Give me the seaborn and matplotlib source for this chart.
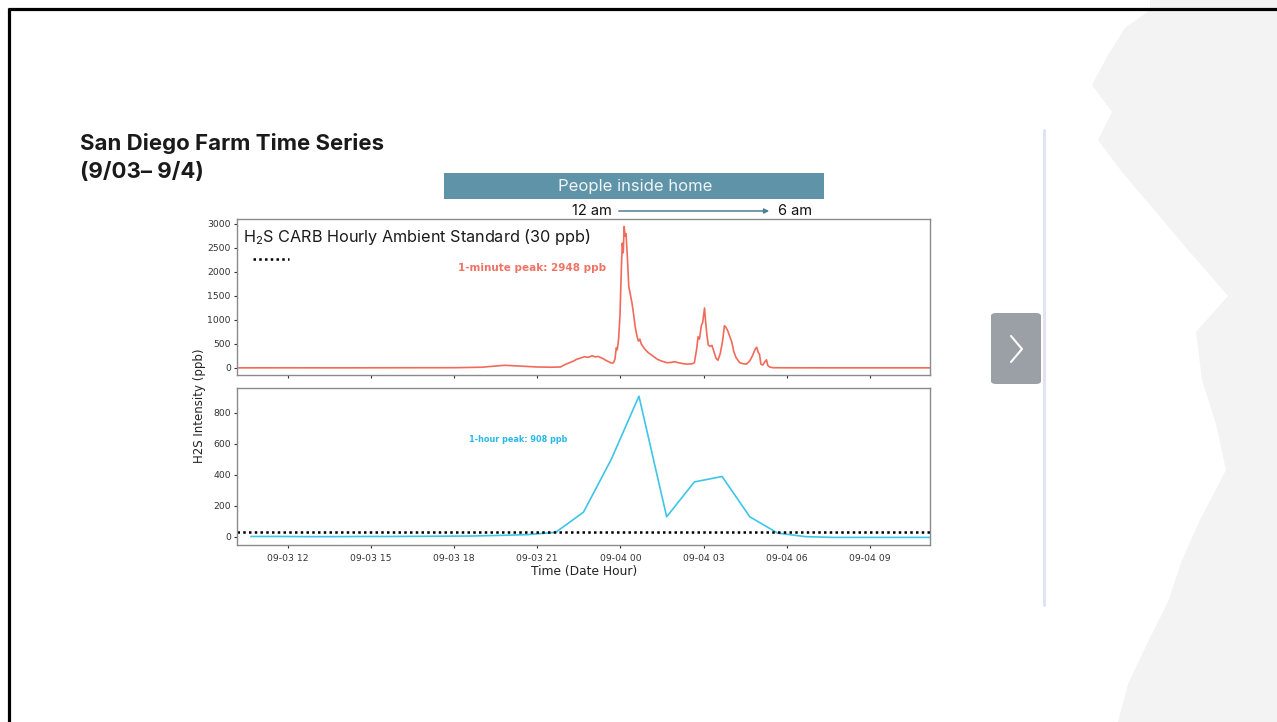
import numpy as np
import pandas as pd
import matplotlib
matplotlib.use("Agg")
import matplotlib.pyplot as plt
import matplotlib.dates as mdates
from matplotlib.lines import Line2D
from matplotlib.patches import Rectangle, FancyBboxPatch, FancyArrowPatch, Polygon
import seaborn as sns

# ---------------- data ----------------
minute_times = [
    "09-03 10:00", "09-03 12:00", "09-03 14:00", "09-03 16:00", "09-03 18:00", "09-03 19:00",
    "09-03 19:30", "09-03 19:50", "09-03 20:10", "09-03 20:40", "09-03 21:00", "09-03 21:30",
    "09-03 21:50", "09-03 22:00", "09-03 22:10", "09-03 22:20", "09-03 22:25", "09-03 22:35",
    "09-03 22:42", "09-03 22:50", "09-03 22:59", "09-03 23:05", "09-03 23:12", "09-03 23:21",
    "09-03 23:30", "09-03 23:41", "09-03 23:45", "09-03 23:48", "09-03 23:51", "09-03 23:53",
    "09-03 23:56", "09-03 23:59", "09-04 00:02", "09-04 00:04", "09-04 00:06", "09-04 00:08",
    "09-04 00:10", "09-04 00:12", "09-04 00:15", "09-04 00:18", "09-04 00:21", "09-04 00:25",
    "09-04 00:28", "09-04 00:32", "09-04 00:36", "09-04 00:39", "09-04 00:42", "09-04 00:45",
    "09-04 00:52", "09-04 01:00", "09-04 01:10", "09-04 01:20", "09-04 01:30", "09-04 01:40",
    "09-04 01:50", "09-04 01:57", "09-04 02:05", "09-04 02:15", "09-04 02:25", "09-04 02:35",
    "09-04 02:40", "09-04 02:45", "09-04 02:48", "09-04 02:51", "09-04 02:55", "09-04 02:58",
    "09-04 03:02", "09-04 03:04", "09-04 03:07", "09-04 03:10", "09-04 03:14", "09-04 03:18",
    "09-04 03:22", "09-04 03:27", "09-04 03:31", "09-04 03:36", "09-04 03:41", "09-04 03:45",
    "09-04 03:48", "09-04 03:52", "09-04 03:55", "09-04 03:58", "09-04 04:01", "09-04 04:05",
    "09-04 04:10", "09-04 04:18", "09-04 04:25", "09-04 04:33", "09-04 04:40", "09-04 04:46",
    "09-04 04:52", "09-04 04:55", "09-04 04:58", "09-04 05:01", "09-04 05:04", "09-04 05:08",
    "09-04 05:12", "09-04 05:16", "09-04 05:19", "09-04 05:23", "09-04 05:30", "09-04 06:00",
    "09-04 08:00", "09-04 10:00", "09-04 12:00",
]
minute_ppb = [
    2, 3, 2, 4, 5, 15,
    40, 55, 45, 30, 20, 15,
    20, 70, 110, 150, 180, 210,
    235, 220, 255, 230, 240, 200,
    150, 100, 110, 180, 420, 380,
    600, 1100, 2100, 2600, 2400, 2948,
    2750, 2800, 2300, 1700, 1550, 1350,
    1150, 850, 650, 560, 600, 500,
    400, 320, 250, 180, 140, 110,
    115, 130, 110, 90, 80, 85,
    110, 400, 650, 600, 880, 950,
    1250, 1000, 700, 480, 450, 470,
    350, 200, 160, 300, 560, 880,
    850, 780, 700, 620, 540, 350,
    220, 110, 90, 80, 150, 260,
    400, 430, 330, 280, 80, 60,
    120, 170, 50, 20, 5, 3,
    2, 2, 2,
]

hour_times = [
    "09-03 10:40", "09-03 11:40", "09-03 12:40", "09-03 13:40", "09-03 14:40", "09-03 15:40",
    "09-03 16:40", "09-03 17:40", "09-03 18:40", "09-03 19:40", "09-03 20:40", "09-03 21:40",
    "09-03 22:40", "09-03 23:40", "09-04 00:40", "09-04 01:40", "09-04 02:40", "09-04 03:40",
    "09-04 04:40", "09-04 05:40", "09-04 06:40", "09-04 07:40", "09-04 08:40", "09-04 09:40",
    "09-04 10:40", "09-04 11:40",
]
hour_ppb = [
    3, 3, 2, 2, 3, 3,
    4, 5, 6, 10, 15, 30,
    160, 500, 908, 130, 355, 390,
    130, 25, 2, -3, -3, -3,
    -3, -3,
]

standard_ppb = 30
x_start, x_end = "09-03 10:10", "09-04 11:10"
tick_fmt = "%m-%d %H"

df_min = pd.DataFrame({"time": pd.to_datetime(["2024-" + t for t in minute_times]),
                       "ppb": minute_ppb})
df_hr = pd.DataFrame({"time": pd.to_datetime(["2024-" + t for t in hour_times]),
                      "ppb": hour_ppb})
xlim = (pd.Timestamp("2024-" + x_start), pd.Timestamp("2024-" + x_end))

# ---------------- style ----------------
sns.set_theme(style="ticks")
plt.rcParams["font.family"] = ["DejaVu Sans"]
plt.rcParams["mathtext.default"] = "regular"

W, H = 1277, 722
fig = plt.figure(figsize=(W / 100, H / 100), dpi=100)
fig.patch.set_facecolor("white")

def fx(x):
    return x / W

def fy(y):
    return 1 - y / H

SLIDE_FONT = "Inter"

# decorative background brush (right side)
brush = [(1150, 0), (1150, 10), (1125, 28), (1108, 55), (1092, 85), (1112, 112), (1098, 140),
         (1122, 172), (1150, 205), (1188, 250), (1228, 296), (1196, 332), (1202, 380),
         (1216, 424), (1226, 470), (1200, 520), (1182, 560), (1168, 602), (1148, 642),
         (1128, 684), (1118, 722), (1277, 722), (1277, 0)]
fig.add_artist(Polygon([(fx(a), fy(b)) for a, b in brush], closed=True,
                       transform=fig.transFigure, facecolor="#f3f3f3", edgecolor="none", zorder=0))

# slide border
fig.add_artist(Line2D([fx(8), fx(1277)], [fy(9), fy(9)], transform=fig.transFigure,
                      color="black", lw=2.3, solid_capstyle="butt"))
fig.add_artist(Line2D([fx(9), fx(9)], [fy(8), fy(722)], transform=fig.transFigure,
                      color="black", lw=2.3, solid_capstyle="butt"))

# title
fig.text(fx(80), fy(143), "San Diego Farm Time Series", family=SLIDE_FONT, weight="bold",
         fontsize=16, color="#1a1a1a", ha="left", va="center")
fig.text(fx(80), fy(172), "(9/03\u2013 9/4)", family=SLIDE_FONT, weight="bold",
         fontsize=16, color="#1a1a1a", ha="left", va="center")

# banner
fig.add_artist(Rectangle((fx(444), fy(199)), fx(824) - fx(444), fy(173) - fy(199),
                         transform=fig.transFigure, facecolor="#5f93a8", edgecolor="none"))
fig.text(fx(635), fy(186), "People inside home", family=SLIDE_FONT, fontsize=12,
         color="#eef4f7", ha="center", va="center")
fig.text(fx(592), fy(211), "12 am", family=SLIDE_FONT, fontsize=10.5, color="#111111",
         ha="center", va="center")
fig.text(fx(795), fy(211), "6 am", family=SLIDE_FONT, fontsize=10.5, color="#111111",
         ha="center", va="center")
fig.add_artist(FancyArrowPatch((fx(616), fy(211)), (fx(772), fy(211)), transform=fig.transFigure,
                               arrowstyle="-|>", mutation_scale=7, color="#4d7f96", lw=1.1))

# right side nav
fig.add_artist(Line2D([fx(1044), fx(1044)], [fy(130), fy(605)], transform=fig.transFigure,
                      color="#e2e2f3", lw=2.2))
fig.add_artist(FancyBboxPatch((fx(991), fy(384)), fx(1041) - fx(991), fy(313) - fy(384),
                              boxstyle="round,pad=0,rounding_size=0.004",
                              transform=fig.transFigure, facecolor="#9aa0a6", edgecolor="none"))
fig.add_artist(Line2D([fx(1011), fx(1022), fx(1011)], [fy(336), fy(349), fy(362)],
                      transform=fig.transFigure, color="white", lw=1.5))

# ---------------- axes ----------------
left, width = fx(237), fx(930) - fx(237)
ax1 = fig.add_axes([left, fy(375), width, fy(219) - fy(375)])
ax2 = fig.add_axes([left, fy(545), width, fy(388) - fy(545)], sharex=ax1)

red = "#f26a5a"
cyan = "#3ec5e8"
sns.lineplot(data=df_min, x="time", y="ppb", ax=ax1, color=red, lw=1.2)
sns.lineplot(data=df_hr, x="time", y="ppb", ax=ax2, color=cyan, lw=1.2)
ax2.axhline(standard_ppb, color="black", lw=1.8, linestyle=(0, (1, 1.3)))

ax1.set_ylim(-147, 3104)
ax2.set_ylim(-52, 961)
ax1.set_xlim(*xlim)
ax1.set_yticks([0, 500, 1000, 1500, 2000, 2500, 3000])
ax2.set_yticks([0, 200, 400, 600, 800])
ax2.xaxis.set_major_locator(mdates.HourLocator(byhour=range(0, 24, 3)))
ax2.xaxis.set_major_formatter(mdates.DateFormatter(tick_fmt))

for ax in (ax1, ax2):
    ax.set_xlabel("")
    ax.set_ylabel("")
    for s in ax.spines.values():
        s.set_color("#8a8a8a")
        s.set_linewidth(1.0)
    ax.tick_params(axis="both", labelsize=6.7, colors="#333333", length=2.5, width=0.8, pad=2)
plt.setp(ax1.get_xticklabels(), visible=False)
ax2.tick_params(axis="x", pad=4)

fig.text(fx(199), fy(406), "H2S Intensity (ppb)", rotation=90, fontsize=8.5, color="#222222",
         ha="center", va="center")
fig.text(fx(584), fy(572), "Time (Date Hour)", fontsize=8.8, color="#222222",
         ha="center", va="center")

# legend-like label in top panel
fig.text(fx(243), fy(237), "H$_{2}$S CARB Hourly Ambient Standard (30 ppb)", family=SLIDE_FONT,
         fontsize=11.7, color="#1a1a1a", ha="left", va="center")
fig.add_artist(Line2D([fx(253), fx(289)], [fy(259), fy(259)], transform=fig.transFigure,
                      color="black", lw=1.8, linestyle=(0, (1, 1.3))))

fig.text(fx(532), fy(268), "1-minute peak: 2948 ppb", fontsize=7.5, weight="bold",
         color="#f07466", ha="center", va="center")
fig.text(fx(518), fy(440), "1-hour peak: 908 ppb", fontsize=5.9, weight="bold",
         color="#2cb8e6", ha="center", va="center")

fig.savefig("out.png", dpi=100, facecolor="white")
